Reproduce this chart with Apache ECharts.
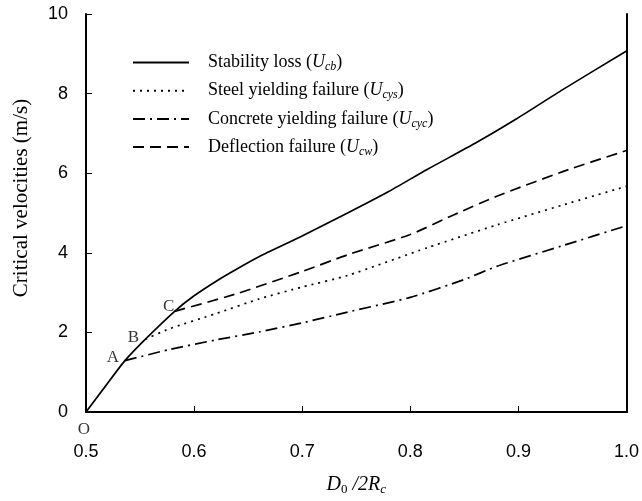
<!DOCTYPE html>
<html>
<head>
<meta charset="utf-8">
<script src="https://cdn.jsdelivr.net/npm/echarts@6/dist/echarts.min.js"></script>
<style>html,body{margin:0;padding:0;background:#fff}#c{width:642px;height:501px}</style>
</head>
<body>
<div id="c"></div>
<script>
var xTicks = [0.5, 0.6, 0.7, 0.8, 0.9, 1.0];
var yTicks = [0, 2, 4, 6, 8, 10];
var stabilityLoss = [[0.5,0],[0.518,0.65],[0.536,1.29],[0.555,1.83],[0.582,2.53],[0.6,2.92],[0.623,3.33],[0.64,3.6],[0.66,3.9],[0.699,4.41],[0.742,5.0],[0.78,5.54],[0.816,6.10],[0.86,6.75],[0.898,7.36],[0.941,8.10],[1.0,9.07]];
var steelYielding = [[0.555,1.83],[0.577,2.09],[0.62,2.47],[0.66,2.84],[0.7,3.14],[0.742,3.43],[0.816,4.13],[0.88,4.70],[0.941,5.20],[1.0,5.67]];
var concreteYielding = [[0.536,1.29],[0.577,1.57],[0.62,1.81],[0.66,2.01],[0.7,2.24],[0.742,2.51],[0.8,2.88],[0.85,3.33],[0.88,3.66],[0.941,4.18],[1.0,4.68]];
var deflection = [[0.582,2.53],[0.638,2.96],[0.7,3.53],[0.742,3.95],[0.8,4.46],[0.84,4.95],[0.88,5.42],[0.941,6.04],[1.0,6.57]];
var pointNames = ['O', 'A', 'B', 'C'];
var pointCoords = [[0.5,0],[0.536,1.29],[0.555,1.83],[0.582,2.53]];
var seriesNames = ['Stability loss', 'Steel yielding failure', 'Concrete yielding failure', 'Deflection failure'];
var seriesSubs = ['cb', 'cys', 'cyc', 'cw'];

var serif = '"Liberation Serif", "Times New Roman", serif';
var sans = '"Liberation Sans", Arial, sans-serif';
var chart = echarts.init(document.getElementById('c'));
var labelOffsets = [[-2, 18], [-12, -3], [-12, -2], [-6, -5]];

function lineSeries(i, data, dash) {
  return {
    name: seriesNames[i], type: 'line', data: data, symbol: 'none', smooth: 0.2,
    lineStyle: {color: '#000', width: 1.7, type: dash},
    itemStyle: {color: '#000'}, z: 3
  };
}

chart.setOption({
  animation: false,
  backgroundColor: '#fff',
  grid: {left: 86, right: 11, top: 14, bottom: 85},
  legend: {
    left: 132, top: 52, padding: 0, orient: 'vertical', itemGap: 7.2, itemWidth: 56, itemHeight: 14,
    data: seriesNames,
    itemStyle: {color: 'transparent', borderWidth: 0, opacity: 0},
    formatter: function (n) {
      var i = seriesNames.indexOf(n);
      return n + ' ({i|U}{s|' + seriesSubs[i] + '})';
    },
    textStyle: {
      fontFamily: serif, fontSize: 18, color: '#000', padding: [0, 0, 0, 14], lineHeight: 20,
      rich: {
        i: {fontFamily: serif, fontSize: 18, fontStyle: 'italic', color: '#000', lineHeight: 20},
        s: {fontFamily: serif, fontSize: 12, fontStyle: 'italic', color: '#000', lineHeight: 20, padding: [9, 0, 0, 0]}
      }
    }
  },
  xAxis: [{
    type: 'value', min: 0.5, max: 1.0, interval: 0.1,
    axisLine: {lineStyle: {color: '#000', width: 2}},
    axisTick: {inside: true, length: 6, lineStyle: {color: '#000', width: 1}},
    splitLine: {show: false},
    axisLabel: {fontFamily: sans, fontSize: 18, color: '#000', margin: 31,
      formatter: function (v) { return v.toFixed(1); }},
    name: '{i|D}{s|0}{i| /2R}{si|c}',
    nameLocation: 'middle', nameGap: 61,
    nameTextStyle: {
      rich: {
        i: {fontFamily: serif, fontSize: 20, fontStyle: 'italic', color: '#000'},
        s: {fontFamily: serif, fontSize: 13, color: '#000', padding: [10, 0, 0, 0]},
        si: {fontFamily: serif, fontSize: 13, fontStyle: 'italic', color: '#000', padding: [10, 0, 0, 0]}
      }
    }
  }, {
    type: 'value', min: 0.5, max: 1.0, position: 'top',
    axisLine: {show: true, lineStyle: {color: '#000', width: 2}},
    axisTick: {show: false}, axisLabel: {show: false}, splitLine: {show: false}
  }],
  yAxis: [{
    type: 'value', min: 0, max: 10, interval: 2,
    axisLine: {show: true, lineStyle: {color: '#000', width: 2}},
    axisTick: {show: true, inside: true, length: 6, lineStyle: {color: '#000', width: 1}},
    splitLine: {show: false},
    axisLabel: {fontFamily: sans, fontSize: 18, color: '#000', margin: 18},
    name: 'Critical velocities (m/s)', nameLocation: 'middle', nameGap: 54,
    nameTextStyle: {fontFamily: serif, fontSize: 21, color: '#000', padding: [0, 0, 0, 30]}
  }, {
    type: 'value', min: 0, max: 10, position: 'right',
    axisLine: {show: true, lineStyle: {color: '#000', width: 2}},
    axisTick: {show: false}, axisLabel: {show: false}, splitLine: {show: false}
  }],
  series: [
    lineSeries(0, stabilityLoss, 'solid'),
    lineSeries(1, steelYielding, [2, 5]),
    lineSeries(2, concreteYielding, [12, 5, 2, 5]),
    lineSeries(3, deflection, [11, 6]),
    {
      type: 'scatter', symbolSize: 0, silent: true, z: 5,
      data: pointCoords.map(function (c, i) {
        return {value: c, label: {show: true, formatter: pointNames[i], offset: labelOffsets[i]}};
      }),
      label: {position: 'inside', fontFamily: serif, fontSize: 17, color: '#000'}
    }
  ]
});
</script>
</body>
</html>
